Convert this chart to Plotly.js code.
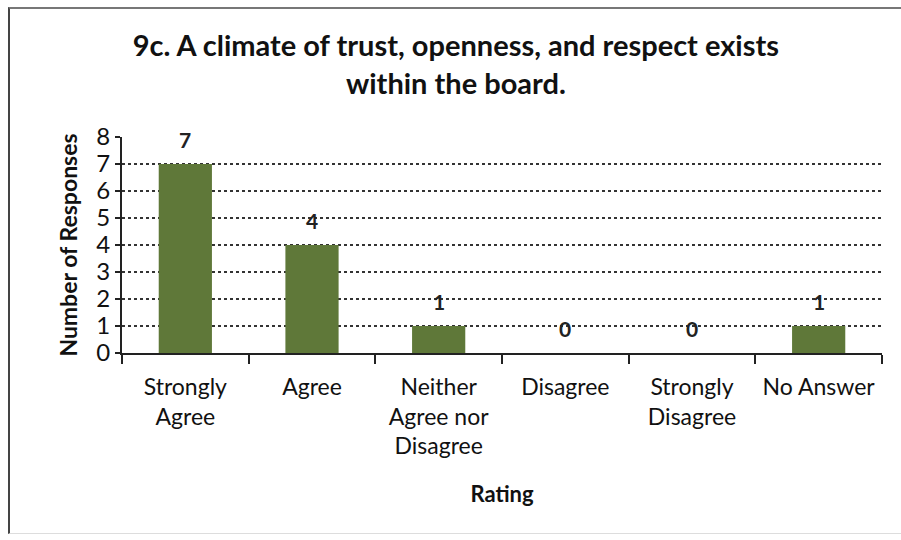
<!DOCTYPE html>
<html>
<head>
<meta charset="utf-8">
<script src="https://cdn.plot.ly/plotly-3.0.1.min.js"></script>
<style>
  html, body { margin: 0; padding: 0; background: #ffffff; }
  #wrap { position: relative; width: 901px; height: 540px; }
  #chart { width: 901px; height: 540px; }
  #frame { position: absolute; left: 8px; top: 7px; width: 893px; height: 527px;
           border-left: 2px solid #444; border-top: 2px solid #777; border-bottom: 1px solid #ddd;
           pointer-events: none; box-sizing: border-box; }
</style>
</head>
<body>
<div id="wrap">
  <div id="chart"></div>
  <div id="frame"></div>
</div>
<script>
// Data
const categories = ["Strongly<br>Agree", "Agree", "Neither<br>Agree nor<br>Disagree", "Disagree", "Strongly<br>Disagree", "No Answer"];
const responses = [7, 4, 1, 0, 0, 1];
const yTickValues = [0, 1, 2, 3, 4, 5, 6, 7, 8];

const chartTitle = "9c. A climate of trust, openness, and respect exists<br>within the board.";
const xTitle = "Rating";
const yTitle = "Number of Responses";

const FONT = "Lato, 'Open Sans', sans-serif";

const trace = {
  type: "bar",
  x: categories,
  y: responses,
  marker: { color: "#5f7839", line: { color: "#4d632d", width: 0 } },
  hoverinfo: "x+y"
};

const annotations = categories.map((c, i) => ({
  x: c, y: responses[i], xref: "x", yref: "y",
  text: String(responses[i]),
  showarrow: false, yshift: 25,
  font: { family: FONT, size: 21, color: "#222", weight: "bold" }
}));

const layout = {
  width: 901, height: 540,
  paper_bgcolor: "#ffffff", plot_bgcolor: "#ffffff",
  margin: { l: 122, r: 19, t: 137, b: 187 },
  bargap: 0.58,
  showlegend: false,
  font: { family: FONT, size: 23, color: "#111" },
  title: {
    text: chartTitle,
    x: 0.506, xanchor: "center",
    y: 1 - 56 / 540, yanchor: "top", yref: "container",
    font: { family: FONT, size: 29, color: "#111", weight: "bold" }
  },
  xaxis: {
    type: "category",
    showline: true, linecolor: "#222", linewidth: 2,
    ticks: "outside", tickson: "boundaries", ticklen: 9, tickwidth: 2, tickcolor: "#222",
    ticklabelstandoff: 12,
    showgrid: false,
    tickfont: { family: FONT, size: 23, color: "#111" },
    title: { text: xTitle, standoff: 28, font: { family: FONT, size: 22, color: "#111", weight: "bold" } },
    automargin: false
  },
  yaxis: {
    range: [0, 8],
    tickvals: yTickValues,
    showline: true, linecolor: "#222", linewidth: 2,
    ticks: "outside", ticklen: 5, tickwidth: 2, tickcolor: "#222",
    showgrid: true, gridcolor: "#333", gridwidth: 1.6, griddash: "dot",
    zeroline: false,
    tickfont: { family: FONT, size: 24, color: "#111" },
    title: { text: yTitle, standoff: 12, font: { family: FONT, size: 23, color: "#111", weight: "bold" } },
    automargin: false
  },
  annotations: annotations
};

Plotly.newPlot("chart", [trace], layout, { displayModeBar: false, staticPlot: true });
</script>
</body>
</html>
